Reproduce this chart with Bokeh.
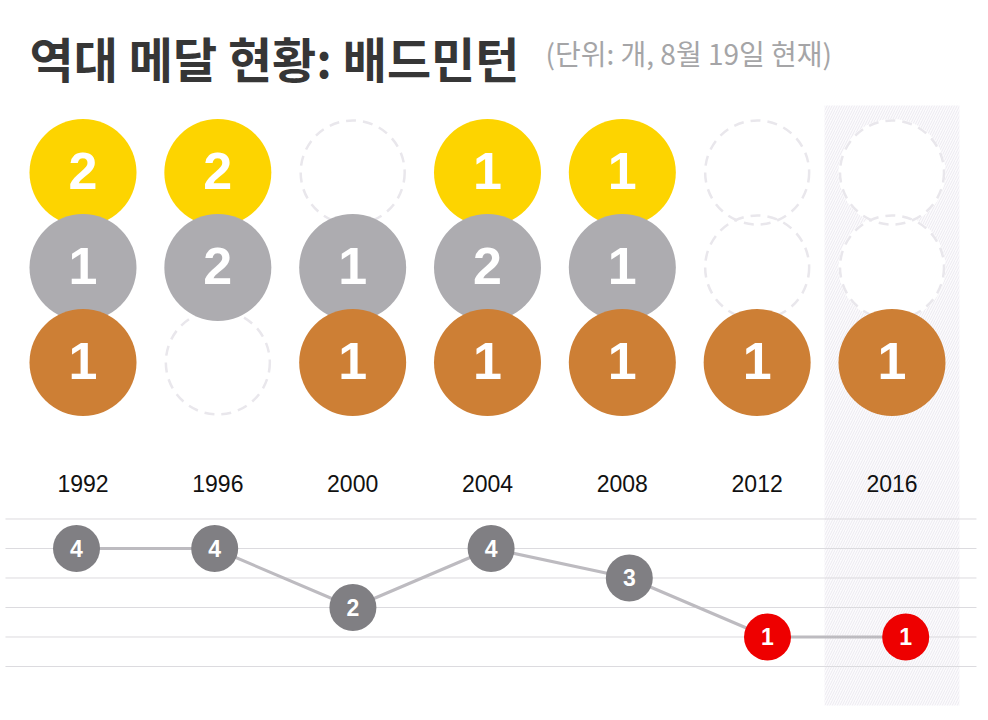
from bokeh.plotting import figure
from bokeh.models import Range1d, Label, ColumnDataSource
from bokeh.core.properties import value
from bokeh.embed import file_html
from bokeh.resources import INLINE

# ---- data ----
years = ["1992", "1996", "2000", "2004", "2008", "2012", "2016"]
gold = [2, 2, 0, 1, 1, 0, 0]
silver = [1, 2, 1, 2, 1, 0, 0]
bronze = [1, 0, 1, 1, 1, 1, 1]
total = [4, 4, 2, 4, 3, 1, 1]
grid_levels = [0, 1, 2, 3, 4, 5]
title_text = "역대 메달 현황: 배드민턴"
subtitle_text = "(단위: 개, 8월 19일 현재)"

# ---- styles ----
GOLD = "#FDD400"
SILVER = "#ADACB0"
BRONZE = "#CD7F35"
PT_GRAY = "#807F83"
PT_RED = "#EE0000"
LINE_C = "#BDBBC0"
GRID_C = "#DCDBDF"
EMPTY_C = "#E9E7EC"

W, H = 988, 720
p = figure(width=W, height=H, output_backend="svg", toolbar_location=None,
           x_axis_location=None, y_axis_location=None, min_border=0,
           x_range=Range1d(-0.6119, 6.7158), y_range=Range1d(-1.8305, 22.576))
p.outline_line_color = None
p.xgrid.visible = False
p.ygrid.visible = False
p.background_fill_color = "white"
p.border_fill_color = "white"
p.extra_y_ranges = {"medal": Range1d(-3.7684, 3.8105)}
p.extra_x_ranges = {"line": Range1d(-0.5499, 6.599)}

n = len(years)
idx = list(range(n))
cur = n - 1

# highlighted current-year band
p.quad(left=[cur - 0.5], right=[cur + 0.5], top=[2.705], bottom=[-3.6105],
       y_range_name="medal", fill_color="#FCFBFD", line_color=None,
       hatch_pattern="right_diagonal_line", hatch_color="#ECEAF0",
       hatch_scale=5, hatch_weight=1)

# horizontal grid lines for totals
p.segment(x0=[-0.514] * len(grid_levels), x1=[6.512] * len(grid_levels),
          y0=grid_levels, y1=grid_levels, x_range_name="line",
          line_color=GRID_C, line_width=1)

# medal rows
rows = [(2, gold, GOLD), (1, silver, SILVER), (0, bronze, BRONZE)]
DIAM = 107

# empty slots: fills then dashed outlines
ex, ey = [], []
for r, vals, c in rows:
    for i, v in enumerate(vals):
        if v == 0:
            ex.append(i)
            ey.append(r)
p.scatter(ex, ey, y_range_name="medal", size=DIAM, marker="circle",
          fill_color="white", line_color=None)
p.scatter(ex, ey, y_range_name="medal", size=DIAM - 3, marker="circle",
          fill_color=None, line_color=EMPTY_C, line_width=2.5, line_dash="10 7")

for r, vals, c in rows:
    xs = [i for i, v in enumerate(vals) if v > 0]
    ts = [str(v) for v in vals if v > 0]
    src = ColumnDataSource(dict(x=xs, y=[r] * len(xs), t=ts))
    p.scatter("x", "y", source=src, y_range_name="medal", size=DIAM,
              marker="circle", fill_color=c, line_color=None)
    p.text("x", "y", text="t", source=src, y_range_name="medal",
           text_color="white", text_font=value("Liberation Sans"),
           text_font_style="bold", text_font_size="52px",
           text_align="center", text_baseline="middle", y_offset=-1)

# year labels
p.text(idx, [-1.274] * n, text=years, y_range_name="medal",
       text_color="#111111", text_font=value("Liberation Sans"),
       text_font_size="23px", text_align="center", text_baseline="middle")

# totals line
p.line(idx, total, x_range_name="line", line_color=LINE_C, line_width=3)
tmin = min(total)
pcolors = [PT_RED if t == tmin else PT_GRAY for t in total]
lsrc = ColumnDataSource(dict(x=idx, y=total, c=pcolors, t=[str(t) for t in total]))
p.scatter("x", "y", source=lsrc, x_range_name="line", size=47, marker="circle",
          fill_color="c", line_color=None)
p.text("x", "y", text="t", source=lsrc, x_range_name="line",
       text_color="white", text_font=value("Liberation Sans"),
       text_font_style="bold", text_font_size="23px",
       text_align="center", text_baseline="middle", y_offset=0)

# titles
p.add_layout(Label(x=29, y=H - 56, x_units="screen", y_units="screen",
                   text=title_text, text_font="Noto Sans CJK KR",
                   text_font_style="bold", text_font_size="48px",
                   text_color="#363636", text_baseline="middle"))
p.add_layout(Label(x=545, y=H - 52, x_units="screen", y_units="screen",
                   text=subtitle_text, text_font="Noto Sans CJK KR",
                   text_font_size="28px", text_color="#A5A5A7",
                   text_baseline="middle"))

open("out.html", "w").write(file_html(p, INLINE))
